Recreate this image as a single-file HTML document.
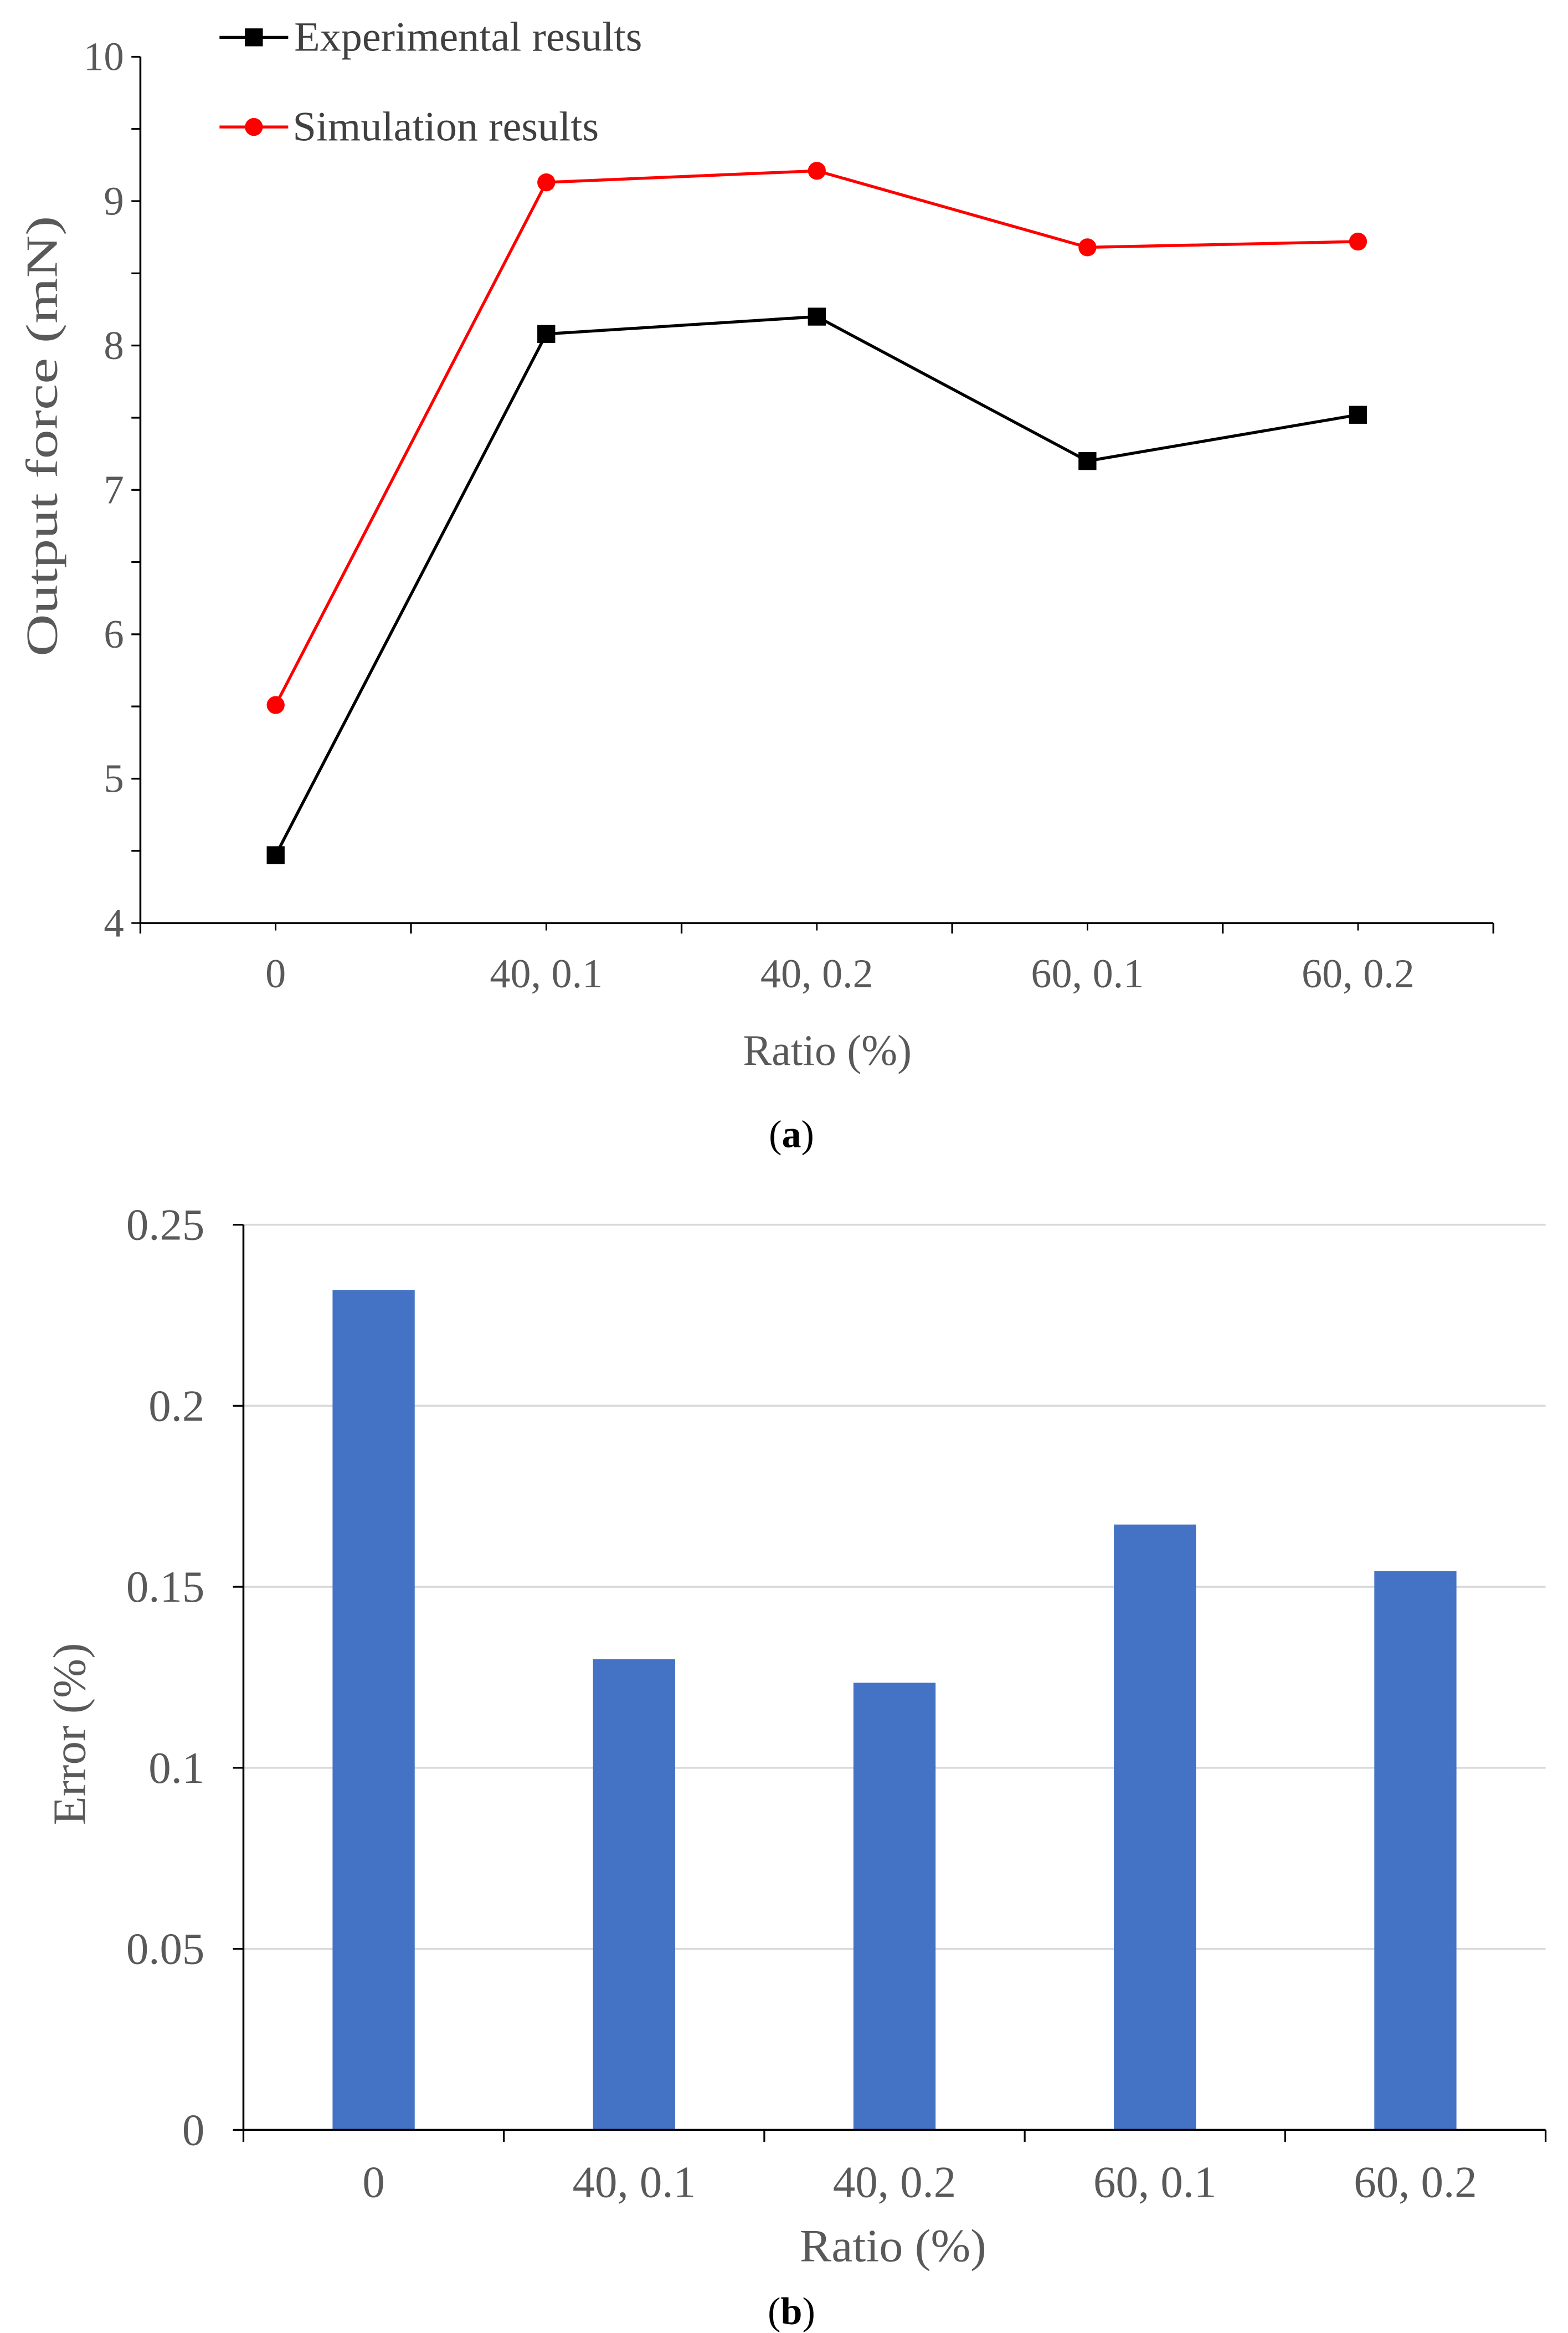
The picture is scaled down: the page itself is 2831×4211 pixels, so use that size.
<!DOCTYPE html>
<html><head><meta charset="utf-8"><style>
html,body{margin:0;padding:0;background:#fff;}
svg{display:block;}
text{font-family:"Liberation Serif",serif;}
</style></head><body>
<svg id="s" width="2831" height="4211" viewBox="0 0 1050 1562" preserveAspectRatio="none">
<rect width="1050" height="1562" fill="#fff"/>
<g id="ca"></g>
<g id="cb"></g>
</svg>
<script>
const categories=["0","40, 0.1","40, 0.2","60, 0.1","60, 0.2"];
const expValues=[4.47,8.08,8.2,7.2,7.52];
const simValues=[5.51,9.13,9.21,8.68,8.72];
const yTicksA=[4,5,6,7,8,9,10];
const errValues=[0.232,0.13,0.1235,0.1672,0.1543];
const yTicksB=[0,0.05,0.1,0.15,0.2,0.25];
const yTickLabelsB=["0","0.05","0.1","0.15","0.2","0.25"];
const NS="http://www.w3.org/2000/svg";
function el(p,t,a,txt){const e=document.createElementNS(NS,t);for(const k in a)e.setAttribute(k,a[k]);if(txt!=null)e.textContent=txt;p.appendChild(e);return e;}
// Chart A
const ga=document.getElementById('ca');
const ax0=94,ax1=1000,ay0=618,ay1=38;
const xA=i=>ax0+(ax1-ax0)/categories.length*(i+0.5);
const yA=v=>ay0-(v-4)/(10-4)*(ay0-ay1);
let e;
e=el(ga,'line',{x1:ax0,y1:ay1,x2:ax0,y2:ay0,stroke:'#000','stroke-width':1.3});

e=el(ga,'line',{x1:ax0,y1:ay0,x2:ax1,y2:ay0,stroke:'#000','stroke-width':1.3});

for(let v=4;v<=10;v+=0.5){el(ga,'line',{x1:ax0-6,y1:yA(v),x2:ax0,y2:yA(v),stroke:'#000','stroke-width':1.2});}
yTicksA.forEach(v=>{e=el(ga,'text',{x:ax0-11,y:yA(v)+9,'text-anchor':'end','font-size':27,fill:'#595959'},String(v));
});
for(let i=0;i<=categories.length;i++){const x=ax0+(ax1-ax0)/categories.length*i;el(ga,'line',{x1:x,y1:ay0,x2:x,y2:ay0+7,stroke:'#000','stroke-width':1.2});}
categories.forEach((c,i)=>{el(ga,'line',{x1:xA(i),y1:ay0,x2:xA(i),y2:ay0+5,stroke:'#000','stroke-width':1});
e=el(ga,'text',{x:xA(i),y:661,'text-anchor':'middle','font-size':27.5,fill:'#595959'},c);
});
e=el(ga,'polyline',{points:simValues.map((v,i)=>xA(i)+','+yA(v)).join(' '),fill:'none',stroke:'#f00','stroke-width':2});

e=el(ga,'polyline',{points:expValues.map((v,i)=>xA(i)+','+yA(v)).join(' '),fill:'none',stroke:'#000','stroke-width':2});

simValues.forEach((v,i)=>{e=el(ga,'circle',{cx:xA(i),cy:yA(v),r:6,fill:'#f00'});
});
expValues.forEach((v,i)=>{e=el(ga,'rect',{x:xA(i)-6,y:yA(v)-6,width:12,height:12,fill:'#000'});
});
e=el(ga,'text',{x:-292,y:38,transform:'rotate(-90)','text-anchor':'middle','font-size':30,fill:'#595959',textLength:295,lengthAdjust:'spacingAndGlyphs'},'Output force (mN)');

e=el(ga,'text',{x:554,y:713,'text-anchor':'middle','font-size':29,fill:'#595959',textLength:113,lengthAdjust:'spacingAndGlyphs'},'Ratio (%)');

e=el(ga,'text',{x:530,y:768,'text-anchor':'middle','font-size':26,fill:'#000'},'(');

const ta=el(e,'tspan',{'font-weight':'bold'},'a');el(e,'tspan',{},')');
// legend
el(ga,'line',{x1:147,y1:25,x2:193,y2:25,stroke:'#000','stroke-width':2});
el(ga,'rect',{x:164,y:19,width:12,height:12,fill:'#000'});
e=el(ga,'text',{x:197,y:34,'font-size':28,fill:'#404040',textLength:233,lengthAdjust:'spacingAndGlyphs'},'Experimental results');

el(ga,'line',{x1:147,y1:85,x2:193,y2:85,stroke:'#f00','stroke-width':2});
el(ga,'circle',{cx:170,cy:85,r:6,fill:'#f00'});
e=el(ga,'text',{x:196,y:94,'font-size':28,fill:'#404040',textLength:205,lengthAdjust:'spacingAndGlyphs'},'Simulation results');

// Chart B
const gb=document.getElementById('cb');
const bx0=163,bx1=1035,by0=1426,by1=820;
const xB=i=>bx0+(bx1-bx0)/categories.length*(i+0.5);
const yB=v=>by0-v/0.25*(by0-by1);
yTicksB.forEach((v,k)=>{if(v>0)el(gb,'line',{x1:bx0,y1:yB(v),x2:bx1,y2:yB(v),stroke:'#d9d9d9','stroke-width':1.3});
el(gb,'line',{x1:bx0-7,y1:yB(v),x2:bx0,y2:yB(v),stroke:'#000','stroke-width':1.2});
e=el(gb,'text',{x:137,y:yB(v)+10,'text-anchor':'end','font-size':30,fill:'#595959'},yTickLabelsB[k]);
});
errValues.forEach((v,i)=>{e=el(gb,'rect',{x:xB(i)-27.5,y:yB(v),width:55,height:by0-yB(v),fill:'#4472c4'});
});
e=el(gb,'line',{x1:bx0,y1:by1,x2:bx0,y2:by0,stroke:'#000','stroke-width':1.3});

e=el(gb,'line',{x1:bx0,y1:by0,x2:bx1,y2:by0,stroke:'#000','stroke-width':1.3});

for(let i=0;i<=categories.length;i++){const x=bx0+(bx1-bx0)/categories.length*i;el(gb,'line',{x1:x,y1:by0,x2:x,y2:by0+8,stroke:'#000','stroke-width':1.2});}
categories.forEach((c,i)=>{e=el(gb,'text',{x:xB(i),y:1471,'text-anchor':'middle','font-size':30,fill:'#595959'},c);
});
e=el(gb,'text',{x:-1161,y:57,transform:'rotate(-90)','text-anchor':'middle','font-size':31,fill:'#595959',textLength:122,lengthAdjust:'spacingAndGlyphs'},'Error (%)');

e=el(gb,'text',{x:598,y:1514,'text-anchor':'middle','font-size':31,fill:'#595959',textLength:125,lengthAdjust:'spacingAndGlyphs'},'Ratio (%)');

e=el(gb,'text',{x:530,y:1556,'text-anchor':'middle','font-size':26,fill:'#000'},'(');

el(e,'tspan',{'font-weight':'bold'},'b');el(e,'tspan',{},')');
</script>
</body></html>
